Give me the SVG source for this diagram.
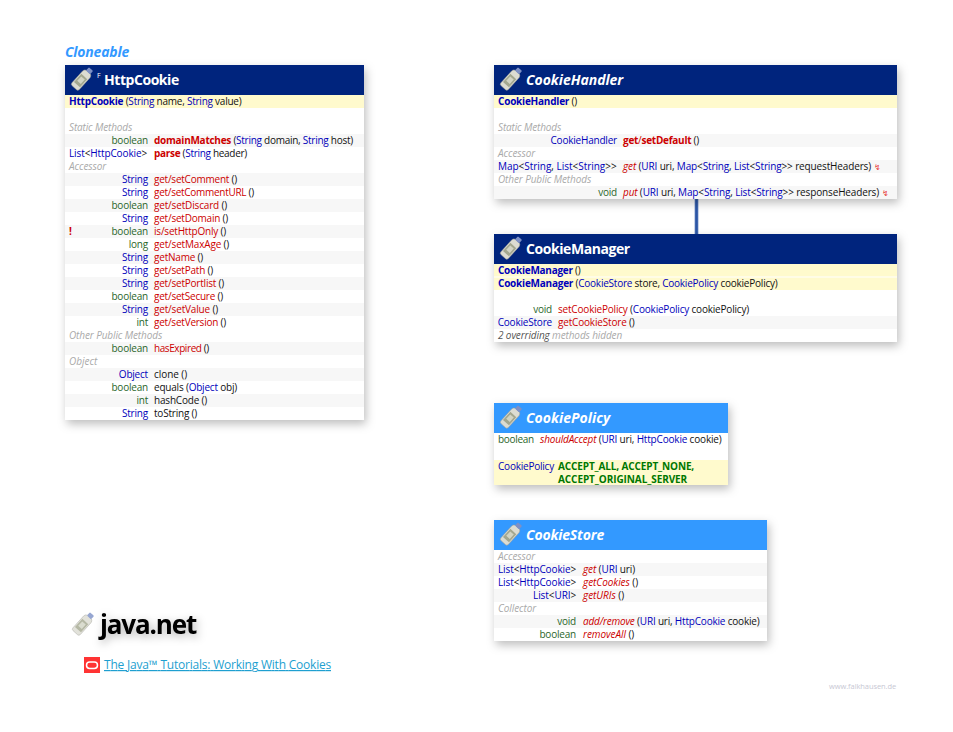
<svg xmlns="http://www.w3.org/2000/svg" width="953" height="732" viewBox="0 0 953 732">
<style>
text{font-family:"Open Sans","Noto Sans","Liberation Sans",sans-serif;font-size:10px;letter-spacing:-.2px;fill:#111}
.r{text-anchor:end}.b{fill:#0000bb}.g{fill:#2a662a}.m{fill:#cc0000}.k{font-weight:700}.i{font-style:italic}
.s{fill:#aaa;font-style:italic}.gg{fill:#555}.c{fill:#007700;font-weight:700}
.t{fill:#fff;font-size:14px;font-weight:700}.ti{font-style:italic}
.sh{fill:#f7f7f7}.y{fill:#fffacd}.w{fill:#fff}.d{fill:#00247d}.l{fill:#3399ff}
.z{font-family:"DejaVu Sans",sans-serif;font-size:8px;fill:#e84040}
</style>
<defs>
<filter id="ds" x="-10%" y="-10%" width="120%" height="125%"><feDropShadow dx="2" dy="4" stdDeviation="5" flood-color="#000" flood-opacity=".26"/></filter>
<filter id="ts" x="-20%" y="-40%" width="140%" height="200%"><feDropShadow dx="2" dy="3" stdDeviation="4" flood-color="#000" flood-opacity=".3"/></filter>
<g id="ic">
<g transform="rotate(42)">
<path d="M-5 -5 Q-5 -7 -2.8 -8 L2.8 -8 Q5 -7 5 -5 L5 11 Q5 13 3 13 L-3 13 Q-5 13 -5 11Z" fill="#dcdcd2" stroke="#9a9a92" stroke-width=".5"/>
<rect x="-4" y="-2" width="8" height="11" fill="#a3a78f"/>
<rect x="-2.4" y="0" width="4.8" height="6" fill="#d2d4c4"/>
<rect x="-2.8" y="-12" width="5.6" height="4.5" rx="1" fill="#7d90c6"/>
</g>
</g>
</defs>

<text x="65" y="57" class="k i" style="font-size:14px;fill:#3399ff" textLength="64">Cloneable</text>

<g id="connectors"><rect x="694.5" y="199" width="4" height="35" fill="#8fa8d4"/><rect x="695.2" y="199" width="2.6" height="35" fill="#2b55a5"/></g>

<g id="HttpCookie">
<rect x="65" y="65" width="299" height="355" class="w" filter="url(#ds)"/>
<rect x="65" y="65" width="299" height="30" class="d"/>
<use href="#ic" x="83" y="78"/>
<text x="97" y="78" style="font-size:7px;fill:#fff">F</text>
<text x="104" y="85" class="t" textLength="75">HttpCookie</text>
<rect x="65" y="95" width="299" height="13" class="y"/>
<rect x="65" y="134" width="299" height="13" class="sh"/>
<rect x="65" y="173" width="299" height="13" class="sh"/>
<rect x="65" y="199" width="299" height="13" class="sh"/>
<rect x="65" y="225" width="299" height="13" class="sh"/>
<rect x="65" y="251" width="299" height="13" class="sh"/>
<rect x="65" y="277" width="299" height="13" class="sh"/>
<rect x="65" y="303" width="299" height="13" class="sh"/>
<rect x="65" y="342" width="299" height="13" class="sh"/>
<rect x="65" y="368" width="299" height="13" class="sh"/>
<rect x="65" y="394" width="299" height="13" class="sh"/>
<text x="69" y="105" textLength="172.5"><tspan class="b k">HttpCookie</tspan> (<tspan class="b">String</tspan> name, <tspan class="b">String</tspan> value)</text>
<text x="69" y="131" class="s" textLength="63">Static Methods</text>
<text x="148" y="144" class="r g">boolean</text>
<text x="154" y="144" textLength="199"><tspan class="m k">domainMatches</tspan> (<tspan class="b">String</tspan> domain, <tspan class="b">String</tspan> host)</text>
<text x="69" y="157" textLength="78"><tspan class="b">List</tspan>&lt;<tspan class="b">HttpCookie</tspan>&gt;</text>
<text x="154" y="157" textLength="93"><tspan class="m k">parse</tspan> (<tspan class="b">String</tspan> header)</text>
<text x="69" y="170" class="s" textLength="37">Accessor</text>
<text x="148" y="183" class="r b">String</text><text x="154" y="183" textLength="83"><tspan class="m">get/setComment</tspan> ()</text>
<text x="148" y="196" class="r b">String</text><text x="154" y="196" textLength="100"><tspan class="m">get/setCommentURL</tspan> ()</text>
<text x="148" y="209" class="r g">boolean</text><text x="154" y="209" textLength="73"><tspan class="m">get/setDiscard</tspan> ()</text>
<text x="148" y="222" class="r b">String</text><text x="154" y="222" textLength="74"><tspan class="m">get/setDomain</tspan> ()</text>
<text x="69" y="235" class="m k">!</text>
<text x="148" y="235" class="r g">boolean</text><text x="154" y="235" textLength="72"><tspan class="m">is/setHttpOnly</tspan> ()</text>
<text x="148" y="248" class="r g">long</text><text x="154" y="248" textLength="75"><tspan class="m">get/setMaxAge</tspan> ()</text>
<text x="148" y="261" class="r b">String</text><text x="154" y="261" textLength="49"><tspan class="m">getName</tspan> ()</text>
<text x="148" y="274" class="r b">String</text><text x="154" y="274" textLength="59"><tspan class="m">get/setPath</tspan> ()</text>
<text x="148" y="287" class="r b">String</text><text x="154" y="287" textLength="70"><tspan class="m">get/setPortlist</tspan> ()</text>
<text x="148" y="300" class="r g">boolean</text><text x="154" y="300" textLength="69"><tspan class="m">get/setSecure</tspan> ()</text>
<text x="148" y="313" class="r b">String</text><text x="154" y="313" textLength="64"><tspan class="m">get/setValue</tspan> ()</text>
<text x="148" y="326" class="r g">int</text><text x="154" y="326" textLength="72"><tspan class="m">get/setVersion</tspan> ()</text>
<text x="69" y="339" class="s" textLength="93">Other Public Methods</text>
<text x="148" y="352" class="r g">boolean</text><text x="154" y="352" textLength="55"><tspan class="m">hasExpired</tspan> ()</text>
<text x="69" y="365" class="s" textLength="28">Object</text>
<text x="148" y="378" class="r b">Object</text><text x="154" y="378" textLength="33">clone ()</text>
<text x="148" y="391" class="r g">boolean</text><text x="154" y="391" textLength="83">equals (<tspan class="b">Object</tspan> obj)</text>
<text x="148" y="404" class="r g">int</text><text x="154" y="404" textLength="53">hashCode ()</text>
<text x="148" y="417" class="r b">String</text><text x="154" y="417" textLength="43">toString ()</text>
</g>

<g id="CookieHandler">
<rect x="494" y="65" width="403" height="134" class="w" filter="url(#ds)"/>
<rect x="494" y="65" width="403" height="30" class="d"/>
<use href="#ic" x="512" y="78"/>
<text x="526" y="85" class="t ti" textLength="97">CookieHandler</text>
<rect x="494" y="95" width="403" height="13" class="y"/>
<rect x="494" y="134" width="403" height="13" class="sh"/>
<rect x="494" y="160" width="403" height="13" class="sh"/>
<rect x="494" y="186" width="403" height="13" class="sh"/>
<text x="498" y="105" textLength="79"><tspan class="b k">CookieHandler</tspan> ()</text>
<text x="498" y="131" class="s" textLength="63">Static Methods</text>
<text x="617" y="144" class="r b">CookieHandler</text>
<text x="623" y="144" textLength="76"><tspan class="m k">get</tspan><tspan class="m">/</tspan><tspan class="m k">setDefault</tspan> ()</text>
<text x="498" y="157" class="s" textLength="37">Accessor</text>
<text x="498" y="170" textLength="118.5"><tspan class="b">Map</tspan>&lt;<tspan class="b">String</tspan>, <tspan class="b">List</tspan>&lt;<tspan class="b">String</tspan>&gt;&gt;</text>
<text x="623" y="170" textLength="248"><tspan class="m i">get</tspan> (<tspan class="b">URI</tspan> uri, <tspan class="b">Map</tspan>&lt;<tspan class="b">String</tspan>, <tspan class="b">List</tspan>&lt;<tspan class="b">String</tspan>&gt;&gt; requestHeaders)</text>
<text x="874" y="170" class="z">↯</text>
<text x="498" y="183" class="s" textLength="93">Other Public Methods</text>
<text x="617" y="196" class="r g">void</text>
<text x="623" y="196" textLength="256"><tspan class="m i">put</tspan> (<tspan class="b">URI</tspan> uri, <tspan class="b">Map</tspan>&lt;<tspan class="b">String</tspan>, <tspan class="b">List</tspan>&lt;<tspan class="b">String</tspan>&gt;&gt; responseHeaders)</text>
<text x="882" y="196" class="z">↯</text>
</g>

<g id="CookieManager">
<rect x="494" y="234" width="403" height="108" class="w" filter="url(#ds)"/>
<rect x="494" y="234" width="403" height="30" class="d"/>
<use href="#ic" x="512" y="247"/>
<text x="526" y="254" class="t" textLength="104">CookieManager</text>
<rect x="494" y="264" width="403" height="12.5" class="y"/>
<rect x="494" y="277.5" width="403" height="12.5" class="y"/>
<rect x="494" y="316" width="403" height="13" class="sh"/>
<text x="498" y="274" textLength="82.5"><tspan class="b k">CookieManager</tspan> ()</text>
<text x="498" y="287" textLength="279.5"><tspan class="b k">CookieManager</tspan> (<tspan class="b">CookieStore</tspan> store, <tspan class="b">CookiePolicy</tspan> cookiePolicy)</text>
<text x="552" y="313" class="r g">void</text>
<text x="558" y="313" textLength="191"><tspan class="m">setCookiePolicy</tspan> (<tspan class="b">CookiePolicy</tspan> cookiePolicy)</text>
<text x="552" y="326" class="r b">CookieStore</text>
<text x="558" y="326" textLength="76.5"><tspan class="m">getCookieStore</tspan> ()</text>
<text x="498" y="339" class="i" textLength="124"><tspan class="gg">2 overriding</tspan> <tspan fill="#aaa">methods hidden</tspan></text>
</g>

<g id="CookiePolicy">
<rect x="494" y="403" width="234" height="82" class="w" filter="url(#ds)"/>
<rect x="494" y="403" width="234" height="30" class="l"/>
<use href="#ic" x="512" y="416"/>
<text x="526" y="423" class="t ti" textLength="84">CookiePolicy</text>
<rect x="494" y="460" width="234" height="25" class="y"/>
<text x="498" y="443" class="g" textLength="36">boolean</text>
<text x="540" y="443" textLength="181.5"><tspan class="m i">shouldAccept</tspan> (<tspan class="b">URI</tspan> uri, <tspan class="b">HttpCookie</tspan> cookie)</text>
<text x="498" y="470" class="b" textLength="56">CookiePolicy</text>
<text x="558" y="470" class="c" textLength="136">ACCEPT_ALL, ACCEPT_NONE,</text>
<text x="558" y="483" class="c" textLength="129">ACCEPT_ORIGINAL_SERVER</text>
</g>

<g id="CookieStore">
<rect x="494" y="520" width="273" height="121" class="w" filter="url(#ds)"/>
<rect x="494" y="520" width="273" height="30" class="l"/>
<use href="#ic" x="512" y="533"/>
<text x="526" y="540" class="t ti" textLength="78">CookieStore</text>
<rect x="494" y="563" width="273" height="13" class="sh"/>
<rect x="494" y="589" width="273" height="13" class="sh"/>
<rect x="494" y="615" width="273" height="13" class="sh"/>
<text x="498" y="560" class="s" textLength="37">Accessor</text>
<text x="498" y="573" textLength="78"><tspan class="b">List</tspan>&lt;<tspan class="b">HttpCookie</tspan>&gt;</text>
<text x="583" y="573" textLength="52"><tspan class="m i">get</tspan> (<tspan class="b">URI</tspan> uri)</text>
<text x="498" y="586" textLength="78"><tspan class="b">List</tspan>&lt;<tspan class="b">HttpCookie</tspan>&gt;</text>
<text x="583" y="586" textLength="55"><tspan class="m i">getCookies</tspan> ()</text>
<text x="533" y="599" textLength="43"><tspan class="b">List</tspan>&lt;<tspan class="b">URI</tspan>&gt;</text>
<text x="583" y="599" textLength="41"><tspan class="m i">getURIs</tspan> ()</text>
<text x="498" y="612" class="s" textLength="38">Collector</text>
<text x="576" y="625" class="r g">void</text>
<text x="583" y="625" textLength="176.5"><tspan class="m i">add/remove</tspan> (<tspan class="b">URI</tspan> uri, <tspan class="b">HttpCookie</tspan> cookie)</text>
<text x="576" y="638" class="r g">boolean</text>
<text x="583" y="638" textLength="51"><tspan class="m i">removeAll</tspan> ()</text>
</g>

<use href="#ic" x="84" y="623" opacity=".8"/>
<text x="100" y="634" class="k" style="font-size:26px;fill:#000" textLength="97" filter="url(#ts)">java.net</text>
<rect x="84" y="657" width="16" height="16" fill="#ff3333"/>
<rect x="86.5" y="662" width="11" height="6.5" rx="3.2" fill="none" stroke="#fff" stroke-width="1.5"/>
<text x="104" y="669" style="font-size:12px;fill:#1e9fd0;text-decoration:underline" textLength="227">The Java™ Tutorials: Working With Cookies</text>
<text x="829" y="689" style="font-size:7.5px;fill:#c8c8d4" textLength="67">www.falkhausen.de</text>
</svg>
